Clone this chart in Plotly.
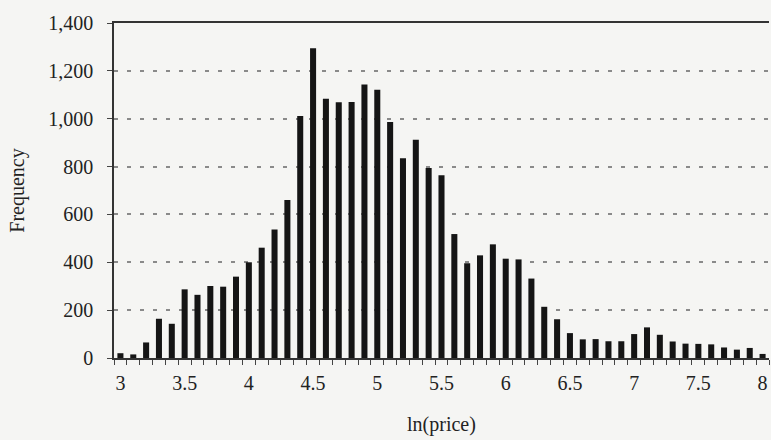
import plotly.graph_objects as go

ln_price = [round(3.0 + 0.1 * i, 1) for i in range(51)]
frequency = [20, 15, 65, 164, 143, 287, 264, 301, 298, 340,
             400, 461, 537, 660, 1011, 1294, 1083, 1069, 1070, 1143,
             1121, 986, 835, 912, 794, 764, 518, 396, 429, 475,
             415, 412, 332, 214, 162, 104, 78, 79, 70, 70,
             100, 128, 97, 69, 60, 59, 57, 44, 35, 42, 17]
x_tick_vals = [3, 3.5, 4, 4.5, 5, 5.5, 6, 6.5, 7, 7.5, 8]
x_tick_text = ["3", "3.5", "4", "4.5", "5", "5.5", "6", "6.5", "7", "7.5", "8"]
y_tick_vals = [0, 200, 400, 600, 800, 1000, 1200, 1400]

bin_edges = [round(v - 0.05, 2) for v in ln_price] + [round(ln_price[-1] + 0.05, 2)]

FONT = "Liberation Serif"
bg = "#f5f5f3"

fig = go.Figure(go.Bar(
    x=ln_price, y=frequency, width=0.047,
    marker=dict(color="#151515", line=dict(width=0)),
))

fig.update_layout(
    width=771, height=440,
    margin=dict(l=114, r=2, t=23, b=82),
    paper_bgcolor=bg, plot_bgcolor=bg,
    font=dict(family=FONT, size=20, color="#222"),
    showlegend=False,
)
fig.update_xaxes(
    automargin=False,
    range=[bin_edges[0], bin_edges[-1]],
    tickmode="array", tickvals=x_tick_vals, ticktext=x_tick_text,
    ticks="", showgrid=False, zeroline=False,
    showline=True, linecolor="#333", linewidth=1.5, mirror=True,
    ticklabelstandoff=6,
    minor=dict(tickmode="array", tickvals=bin_edges, ticks="outside",
               ticklen=5, tickcolor="#444", tickwidth=1, showgrid=False),
    title=dict(text="ln(price)", font=dict(family=FONT, size=20), standoff=24),
)
fig.update_yaxes(
    automargin=False,
    range=[0, 1400],
    tickmode="array", tickvals=y_tick_vals, tickformat=",",
    ticks="outside", ticklen=5, tickcolor="#444",
    ticklabelstandoff=10,
    showgrid=True, gridcolor="#8a8a8a", griddash="4px,9px", gridwidth=1.5,
    zeroline=False,
    showline=True, linecolor="#333", linewidth=1.5,
    title=dict(text="Frequency", font=dict(family=FONT, size=20), standoff=18),
)

fig.write_html("out.html", config={"displayModeBar": False},
               post_script="document.body.style.margin='0';")
